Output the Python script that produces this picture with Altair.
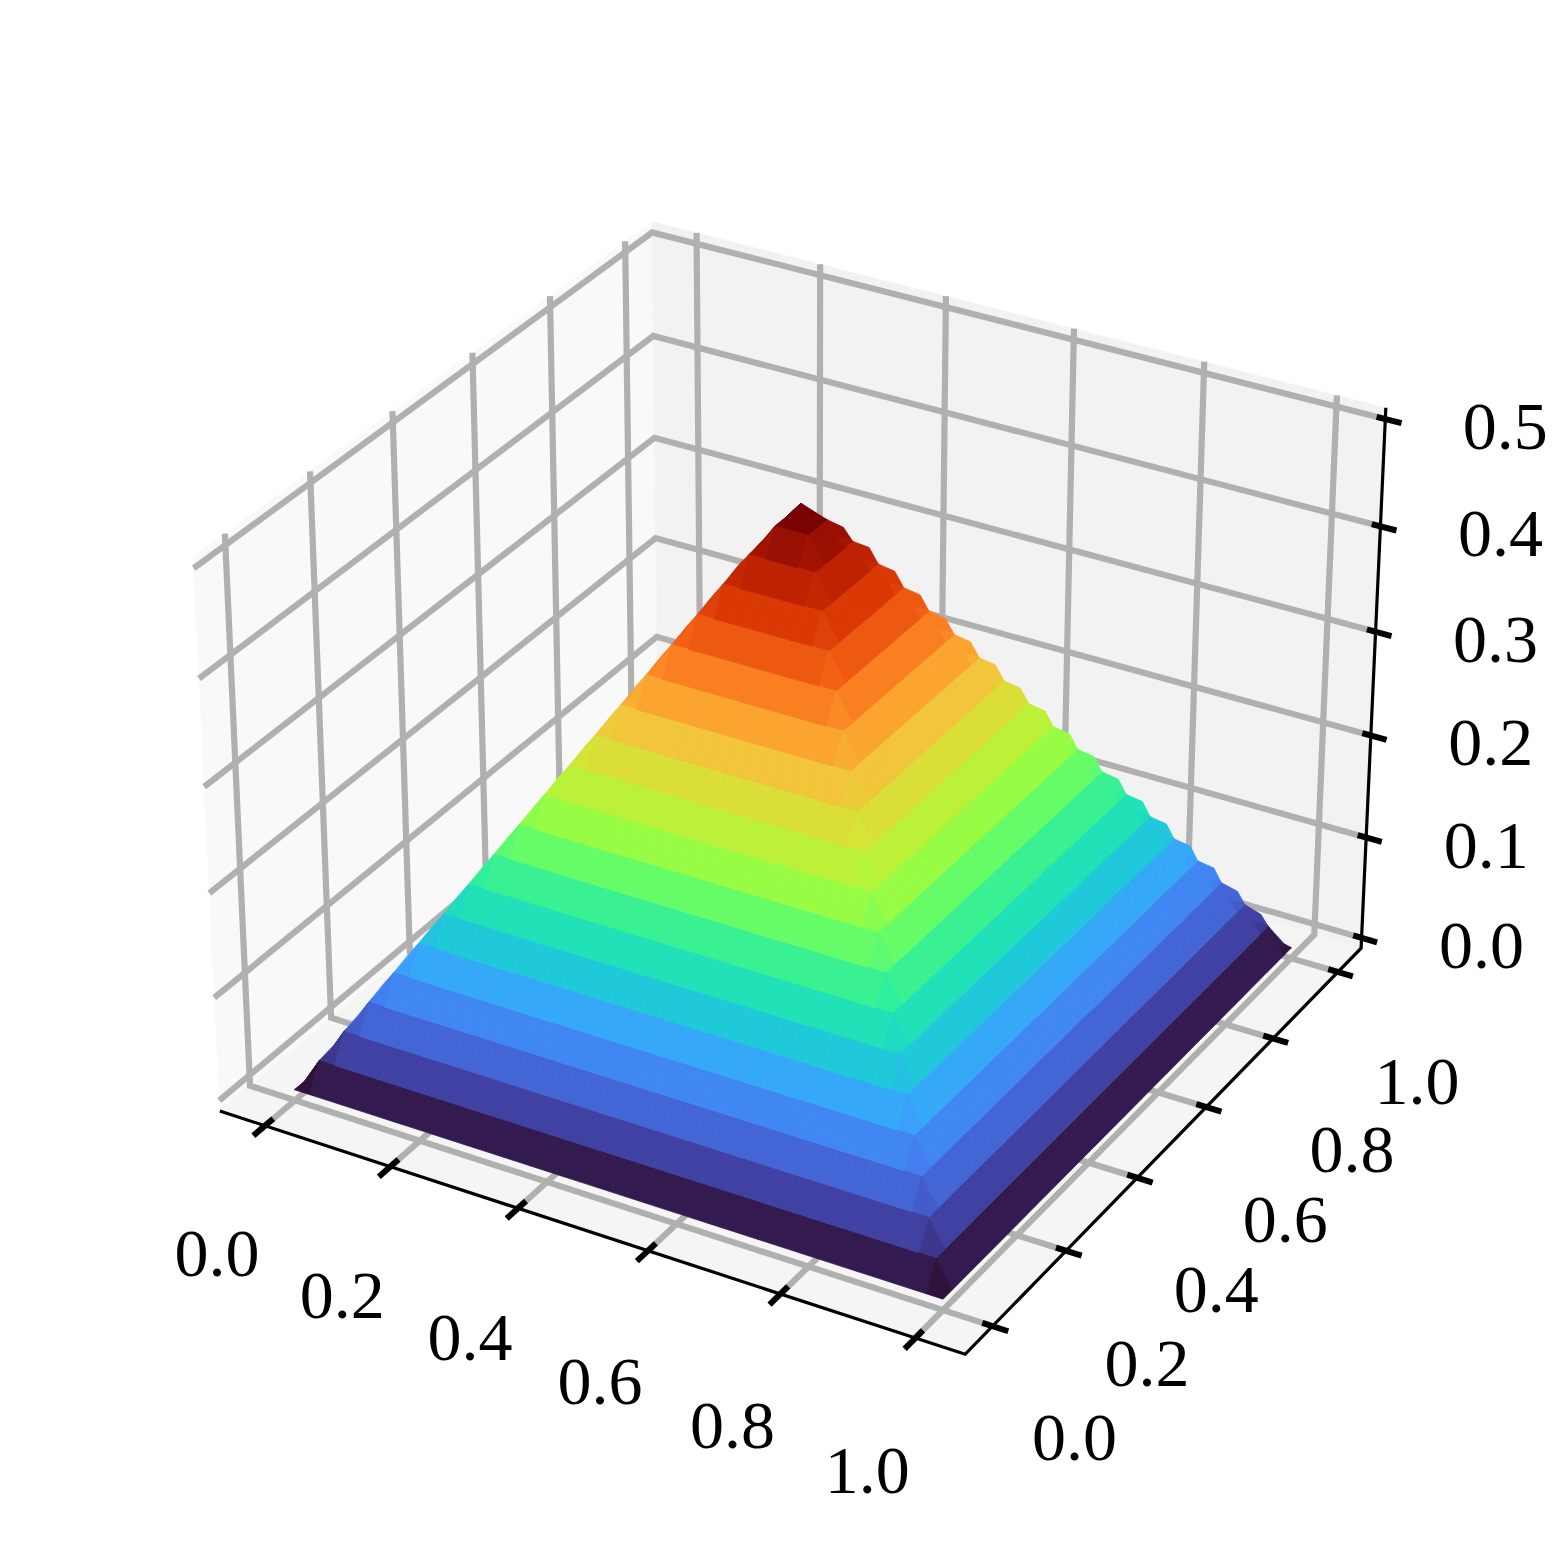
import numpy as np
import pandas as pd
import altair as alt

# ---- values ----
tick_xy = [0.0, 0.2, 0.4, 0.6, 0.8, 1.0]
tick_z = [0.0, 0.1, 0.2, 0.3, 0.4, 0.5]
# height of each concentric ring of the pyramid, base to apex
ring_levels = [0.0, 0.025, 0.05, 0.075, 0.1, 0.125, 0.15, 0.175, 0.2, 0.225, 0.25,
               0.275, 0.3, 0.325, 0.35, 0.375, 0.4, 0.425, 0.449, 0.472, 0.49]
# how far the scallops rise at the two silhouette ridges (fraction of a step)
ridge_lift = [0.5, 0.8, 0.85, 0.9, 0.9, 0.9, 0.9, 0.9, 0.9, 0.9,
              0.9, 0.9, 0.9, 0.9, 0.9, 0.9, 0.9, 0.9, 0.8, 0.5]
grid_steps = 40
turbo_t = [0, 1/14, 2/14, 3/14, 4/14, 5/14, 6/14, 7/14, 8/14, 9/14, 10/14, 11/14, 12/14, 13/14, 1]
turbo_colors = ['#30123b', '#4145ab', '#4675ed', '#39a2fc', '#1bcfd4', '#24eca6', '#61fc6c', '#a4fc3b',
                '#d1e834', '#f3c63a', '#fe9b2d', '#f36315', '#d93806', '#b11901', '#7a0402']
pane_names = ['left', 'back', 'floor']
pane_colors = ['#f9f9f9', '#f2f2f2', '#f5f5f5']
GRID = '#b0b0b0'
# label nudges, one per tick
x_label_dx = [-48, -48, -48, -48, -48, -48]
x_label_dy = [130, 131, 132, 133, 134, 135]
y_label_dx = [82, 81, 79, 79, 79, 79]
y_label_dy = [114, 115, 114, 115, 114, 112]
z_label_dx = [120, 120, 120, 120, 120, 120]
z_label_dy = [10, 10, 10, 10, 10, 10]

# ---- 3D view: elevation 30, azimuth -60, distance 10, box 4:4:3 ----
XLIM = (-0.05, 1.05)
YLIM = (-0.05, 1.05)
ZLIM = (0.0, 0.5)
XPAD = 1.1 / 48
ZPAD = 0.5 / 48
XE = (XLIM[0] - XPAD, XLIM[1] + XPAD)
YE = (YLIM[0] - XPAD, YLIM[1] + XPAD)
ZE = (ZLIM[0] - ZPAD, ZLIM[1] + ZPAD)
BOX = 1.8294640721620434 * np.array([4, 4, 2.96]) / np.linalg.norm([4, 4, 3])
el, az = np.radians(30), np.radians(-60)
W = np.array([np.cos(el) * np.cos(az), np.cos(el) * np.sin(az), np.sin(el)])
U = np.cross([0, 0, 1], W); U = U / np.linalg.norm(U)
V = np.cross(W, U)


def project(x, y, z):
    r = np.array([(x - XLIM[0]) / (XLIM[1] - XLIM[0]) - 0.5,
                  (y - YLIM[0]) / (YLIM[1] - YLIM[0]) - 0.5,
                  (z - ZLIM[0]) / (ZLIM[1] - ZLIM[0]) - 0.5]) * BOX
    depth = r @ W
    d = 10 - depth
    return float(r @ U / d), float(r @ V / d), float(depth)


SX, OX, SY, OY = 7170.0, 801.0, 7170.0, 760.5
x_scale = alt.Scale(domain=[(8 - OX) / SX, (1554 - OX) / SX], nice=False, zero=False)
y_scale = alt.Scale(domain=[(OY - 1554) / SY, (OY - 8) / SY], nice=False, zero=False)
X = alt.X('px:Q', scale=x_scale, axis=None)
Y = alt.Y('py:Q', scale=y_scale, axis=None)


def polyline_rows(rows, pid, pts, **extra):
    for n, p in enumerate(pts):
        a, b, _ = project(*p)
        rows.append(dict(pid=pid, n=n, px=a, py=b, **extra))


# ---- panes ----
pane_rows = []
polyline_rows(pane_rows, 0, [(XE[0], YE[0], ZE[0]), (XE[0], YE[1], ZE[0]), (XE[0], YE[1], ZE[1]), (XE[0], YE[0], ZE[1]), (XE[0], YE[0], ZE[0])], c='left')
polyline_rows(pane_rows, 1, [(XE[0], YE[1], ZE[0]), (XE[1], YE[1], ZE[0]), (XE[1], YE[1], ZE[1]), (XE[0], YE[1], ZE[1]), (XE[0], YE[1], ZE[0])], c='back')
polyline_rows(pane_rows, 2, [(XE[0], YE[0], ZE[0]), (XE[1], YE[0], ZE[0]), (XE[1], YE[1], ZE[0]), (XE[0], YE[1], ZE[0]), (XE[0], YE[0], ZE[0])], c='floor')
pane_scale = alt.Scale(domain=pane_names, range=pane_colors)
panes = alt.Chart(pd.DataFrame(pane_rows)).mark_line(filled=True, strokeWidth=0.5).encode(
    x=X, y=Y, detail='pid:N', order='n:Q',
    fill=alt.Fill('c:N', scale=pane_scale, legend=None),
    stroke=alt.Stroke('c:N', scale=pane_scale, legend=None))

# ---- grid ----
grid_rows = []
pid = 0
for t in tick_xy:
    polyline_rows(grid_rows, pid, [(t, YE[0], ZE[0]), (t, YE[1], ZE[0]), (t, YE[1], ZE[1])]); pid += 1
    polyline_rows(grid_rows, pid, [(XE[1], t, ZE[0]), (XE[0], t, ZE[0]), (XE[0], t, ZE[1])]); pid += 1
for t in tick_z:
    polyline_rows(grid_rows, pid, [(XE[0], YE[0], t), (XE[0], YE[1], t), (XE[1], YE[1], t)]); pid += 1
grid = alt.Chart(pd.DataFrame(grid_rows)).mark_line(color=GRID, strokeWidth=6.2, strokeJoin='miter').encode(
    x=X, y=Y, detail='pid:N', order='n:Q')

# ---- axis lines and ticks ----
axis_rows = []
polyline_rows(axis_rows, 0, [(XE[0], YE[0], ZE[0]), (XE[1], YE[0], ZE[0]), (XE[1], YE[1], ZE[0]), (XE[1], YE[1], ZE[1])])
axes = alt.Chart(pd.DataFrame(axis_rows)).mark_line(color='black', strokeWidth=3.2, strokeJoin='miter').encode(
    x=X, y=Y, detail='pid:N', order='n:Q')

tick_rows = []
pid = 0
for t in tick_xy:
    polyline_rows(tick_rows, pid, [(t, YE[0] - 0.028, ZE[0]), (t, YE[0] + 0.02, ZE[0])]); pid += 1
    polyline_rows(tick_rows, pid, [(XE[1] + 0.023, t, ZE[0]), (XE[1] - 0.015, t, ZE[0])]); pid += 1
for t in tick_z:
    polyline_rows(tick_rows, pid, [(XE[1] + 0.024, YE[1], t), (XE[1] - 0.013, YE[1], t)]); pid += 1
ticks = alt.Chart(pd.DataFrame(tick_rows)).mark_line(color='black', strokeWidth=6).encode(
    x=X, y=Y, detail='pid:N', order='n:Q')

# ---- surface ----
nodes = np.linspace(0, 1, grid_steps + 1)
n_cells = grid_steps
STEP = ring_levels[1] - ring_levels[0]


def node_ring(i, j):
    return min(i, j, grid_steps - i, grid_steps - j)


def node_point(i, j, lift=0.0):
    return (nodes[i], nodes[j], ring_levels[node_ring(i, j)] + lift * STEP)


cells = []
for i in range(n_cells):
    for j in range(n_cells):
        corners = [(i, j), (i + 1, j), (i + 1, j + 1), (i, j + 1)]
        pts = [node_point(a, b) for a, b in corners]
        depth = float(np.mean([project(*p)[2] for p in pts]))
        t = (np.mean([node_ring(a, b) for a, b in corners]) - 0.25) / 19
        cells.append((depth, pts, float(t)))
cells.sort(key=lambda c: c[0])

# scallops showing behind the two silhouette ridges, painted before the surface
bumps = []
for k, lift in enumerate(ridge_lift):
    t = (k + 0.25) / 19
    bumps.append(([node_point(k, k), node_point(k + 1, k, lift), node_point(k + 1, k + 1), node_point(k, k + 1)], t))
    m = grid_steps - k
    bumps.append(([node_point(m, m), node_point(m, m - 1, lift), node_point(m - 1, m - 1), node_point(m - 1, m)], t))

surf_rows = []
pid = 0
for pts, t in bumps:
    polyline_rows(surf_rows, pid, pts + pts[:1], t=t); pid += 1
for _, pts, t in cells:
    polyline_rows(surf_rows, pid, pts + pts[:1], t=t); pid += 1
turbo = alt.Scale(domain=turbo_t, range=turbo_colors, interpolate='rgb')
surface = alt.Chart(pd.DataFrame(surf_rows)).mark_line(filled=True, strokeWidth=0.8).encode(
    x=X, y=Y, detail='pid:N', order='n:Q',
    fill=alt.Fill('t:Q', scale=turbo, legend=None),
    stroke=alt.Stroke('t:Q', scale=turbo, legend=None))


# ---- tick labels ----
def labels(vals, pos, dxs, dys):
    rows = []
    for v, dx, dy in zip(vals, dxs, dys):
        a, b, _ = project(*pos(v))
        rows.append(dict(px=a + dx / SX, py=b - dy / SY, label=f'{v:.1f}'))
    return alt.Chart(pd.DataFrame(rows)).mark_text(
        font='Liberation Serif', fontSize=68, color='black', align='center', baseline='middle'
    ).encode(x=X, y=Y, text='label:N')


xl = labels(tick_xy, lambda t: (t, YE[0], ZE[0]), x_label_dx, x_label_dy)
yl = labels(tick_xy, lambda t: (XE[1], t, ZE[0]), y_label_dx, y_label_dy)
zl = labels(tick_z, lambda t: (XE[1], YE[1], t), z_label_dx, z_label_dy)

chart = alt.layer(panes, grid, axes, ticks, surface, xl, yl, zl).properties(
    width=1546, height=1546, padding=0, autosize='none', background='white'
).configure_view(stroke=None)
chart.save("out.html", embed_options={"renderer": "svg", "actions": False})
